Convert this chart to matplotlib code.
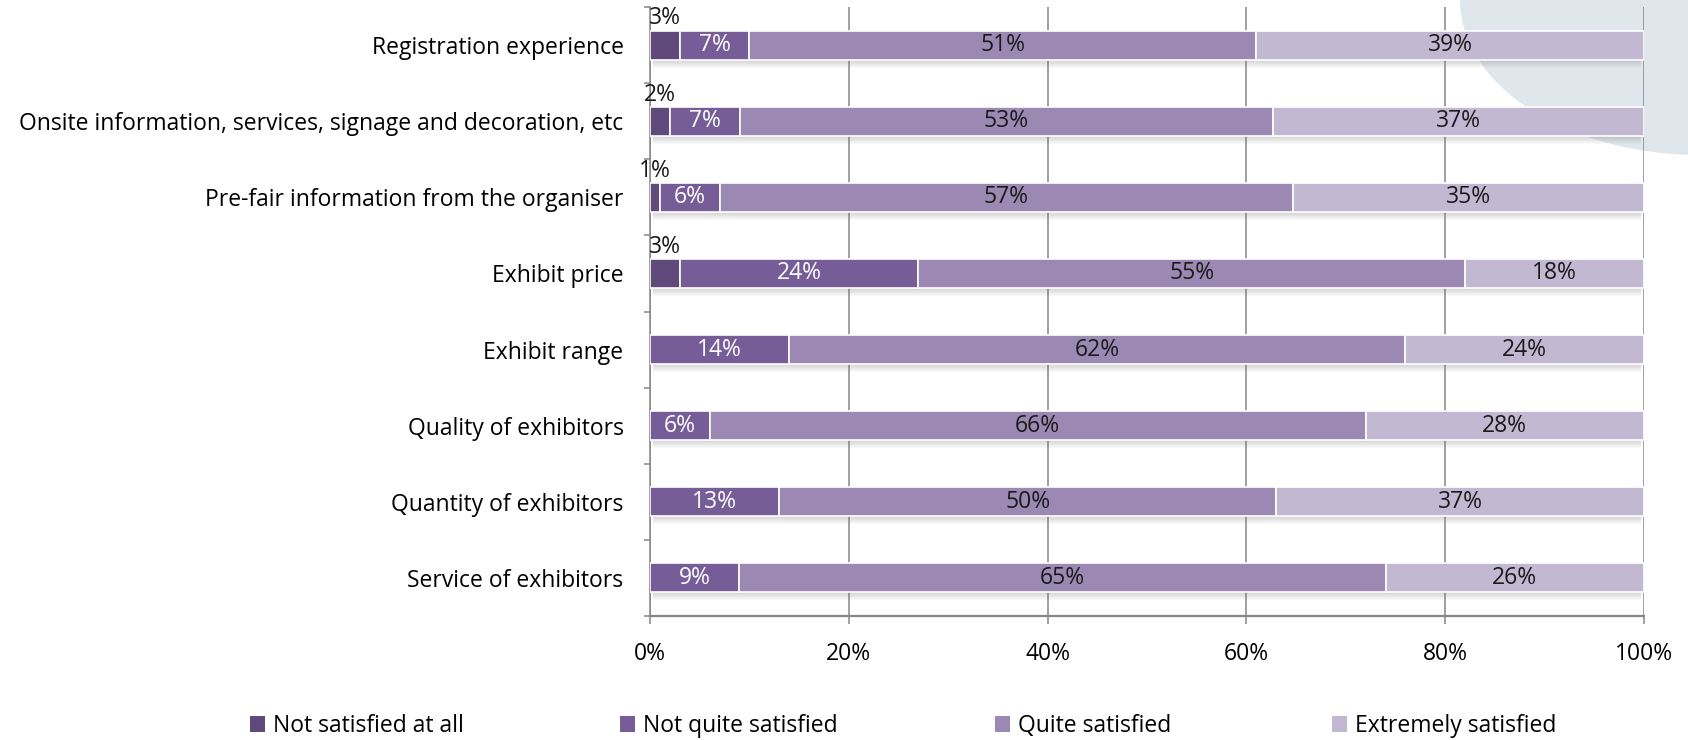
import matplotlib
matplotlib.use("Agg")
import matplotlib.pyplot as plt
from matplotlib.patches import Ellipse, Patch
import numpy as np

plt.rcParams["font.family"] = ["Open Sans", "DejaVu Sans"]

categories = [
    "Registration experience",
    "Onsite information, services, signage and decoration, etc",
    "Pre-fair information from the organiser",
    "Exhibit price",
    "Exhibit range",
    "Quality of exhibitors",
    "Quantity of exhibitors",
    "Service of exhibitors",
]
series_names = ["Not satisfied at all", "Not quite satisfied",
                "Quite satisfied", "Extremely satisfied"]
not_at_all = [3, 2, 1, 3, 0, 0, 0, 0]
not_quite = [7, 7, 6, 24, 14, 6, 13, 9]
quite = [51, 53, 57, 55, 62, 66, 50, 65]
extremely = [39, 37, 35, 18, 24, 28, 37, 26]
x_ticks = [0, 20, 40, 60, 80, 100]
x_tick_labels = ["0%", "20%", "40%", "60%", "80%", "100%"]

colors = ["#604a7b", "#775d98", "#9b88b3", "#c3b8d1"]
label_colors = ["#1a1a1a", "white", "#1a1a1a", "#1a1a1a"]
axis_grey = "#868686"
FS = 16.5

W, H = 1688, 740
fig = plt.figure(figsize=(W / 100, H / 100), dpi=100)

# decorative pale disc in the top-right corner
fig.patches.append(Ellipse((1700 / W, 1.0), 480 / W, 310 / H,
                           transform=fig.transFigure, facecolor="#e0e7ec",
                           edgecolor="none", zorder=0))

ax = fig.add_axes([650 / W, 1 - 616 / H, 994 / W, 609 / H])
ax.set_facecolor("none")
ax.set_zorder(1)

values = np.array([not_at_all, not_quite, quite, extremely], dtype=float)
totals = values.sum(axis=0)
shares = values / totals * 100
y = np.arange(len(categories))
bar_h = 0.38

# soft drop shadow under each bar
px = 1 / 76.1
row_width = shares.sum(axis=0)
for k in range(8):
    ax.barh(y + bar_h / 2 + (k + 0.5) * px, row_width - 0.6, left=0.3,
            height=px * 1.05, color="#6f6f6f", alpha=0.3 * (1 - k / 8),
            linewidth=0, zorder=2)

left = np.zeros(len(categories))
for i, name in enumerate(series_names):
    ax.barh(y, shares[i], left=left, height=bar_h, color=colors[i],
            edgecolor="white", linewidth=1.2, label=name, zorder=3)
    for j in range(len(categories)):
        v = values[i, j]
        if v <= 0:
            continue
        cx = left[j] + shares[i, j] / 2
        if i == 0:
            ax.text(cx, y[j] - 0.35, f"{int(v)}%", ha="center", va="center",
                    fontsize=FS, color=label_colors[i], zorder=5)
        else:
            ax.text(cx, y[j], f"{int(v)}%", ha="center", va="center",
                    fontsize=FS, color=label_colors[i], zorder=5)
    left += shares[i]

ax.set_xlim(0, 100)
ax.set_ylim(len(categories) - 0.5, -0.5)
ax.set_xticks(x_ticks)
ax.set_xticklabels(x_tick_labels, fontsize=FS)
ax.set_yticks(y)
ax.set_yticklabels(categories, fontsize=FS)
ax.set_yticks(np.arange(len(categories) + 1) - 0.5, minor=True)

ax.grid(axis="x", color=axis_grey, linewidth=1.1, zorder=1)
ax.set_axisbelow(True)
for side in ("top", "right"):
    ax.spines[side].set_visible(False)
ax.spines["left"].set_color(axis_grey)
ax.spines["left"].set_linewidth(1.1)
ax.spines["bottom"].set_color(axis_grey)
ax.spines["bottom"].set_linewidth(1.6)

ax.tick_params(axis="y", which="major", length=0, pad=19, colors="black")
ax.tick_params(axis="y", which="minor", length=4.5, width=1.1, color=axis_grey)
ax.tick_params(axis="x", which="major", length=5.5, width=1.1, color=axis_grey,
               pad=13, labelcolor="black")

# legend entries spaced along the bottom edge
legend_x = [250, 620, 995, 1332]
for i, name in enumerate(series_names):
    fig.legend(handles=[Patch(facecolor=colors[i], edgecolor="none")],
               labels=[name], loc="center left",
               bbox_to_anchor=(legend_x[i] / W, 1 - 726 / H),
               frameon=False, fontsize=FS, handlelength=0.65,
               handleheight=0.65, handletextpad=0.35, borderpad=0,
               borderaxespad=0)

fig.savefig("out.png", dpi=100)
